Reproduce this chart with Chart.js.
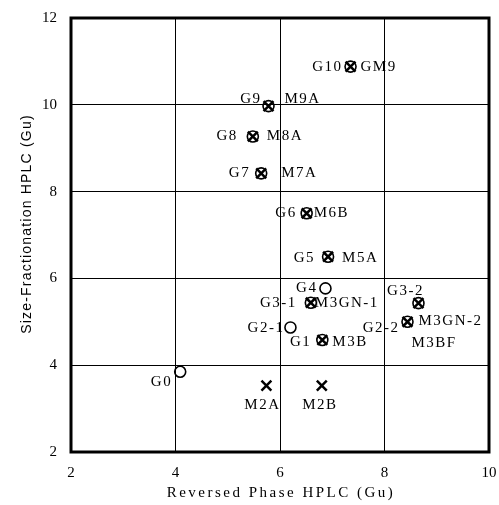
<!DOCTYPE html>
<html>
<head>
<meta charset="utf-8">
<style>
  html, body { margin: 0; padding: 0; background: #fff; }
  #wrap { width: 499px; height: 505px; }
</style>
<script src="https://cdn.jsdelivr.net/npm/chart.js@4/dist/chart.umd.min.js"></script>
</head>
<body>
<div id="wrap"><canvas id="c" width="499" height="505"></canvas></div>
<script>
// Glycan fractions: open circles (G series)
const circleNames = ['G10', 'G9', 'G8', 'G7', 'G6', 'G5', 'G4', 'G3-1', 'G3-2', 'G2-1', 'G2-2', 'G1', 'G0'];
const circleX = [7.35, 5.78, 5.48, 5.64, 6.51, 6.92, 6.87, 6.59, 8.65, 6.20, 8.44, 6.81, 4.09];
const circleY = [10.88, 9.97, 9.27, 8.42, 7.50, 6.50, 5.77, 5.44, 5.43, 4.87, 5.00, 4.58, 3.85];

// Standard oligosaccharides: crosses (M series)
const crossNames = ['GM9', 'M9A', 'M8A', 'M7A', 'M6B', 'M5A', 'M3GN-1', 'M3GN-2', 'M3BF', 'M3B', 'M2A', 'M2B'];
const crossX = [7.35, 5.78, 5.48, 5.64, 6.51, 6.92, 6.59, 8.65, 8.44, 6.81, 5.74, 6.80];
const crossY = [10.88, 9.97, 9.27, 8.42, 7.50, 6.50, 5.44, 5.43, 5.00, 4.58, 3.53, 3.53];

// Axis ticks
const xTicks = [2, 4, 6, 8, 10];
const yTicks = [2, 4, 6, 8, 10, 12];

const xTitle = 'Reversed Phase HPLC (Gu)';
const yTitle = 'Size-Fractionation HPLC (Gu)';

// Where each point's name sits relative to its marker: [dx, dy, align]
const labelPlacement = {
  'G10': [-8, 0, 'right'], 'GM9': [10, 0, 'left'],
  'G9': [-7, -7, 'right'], 'M9A': [16, -7, 'left'],
  'G8': [-15, 0, 'right'], 'M8A': [14, 0, 'left'],
  'G7': [-11, 0, 'right'], 'M7A': [20, 0, 'left'],
  'G6': [-10, 0, 'right'], 'M6B': [7, 0, 'left'],
  'G5': [-13, 1, 'right'], 'M5A': [14, 1, 'left'],
  'G4': [-8, 0, 'right'],
  'G3-1': [-14, 0, 'right'], 'M3GN-1': [4, 0, 'left'],
  'G3-2': [-13, -12, 'center'], 'M3GN-2': [0, 18, 'left'],
  'G2-1': [-6, 1, 'right'],
  'G2-2': [-8, 6, 'right'], 'M3BF': [4, 21, 'left'],
  'G1': [-11, 2, 'right'], 'M3B': [10, 2, 'left'],
  'M2A': [-4, 19, 'center'], 'M2B': [-2, 19, 'center'],
  'G0': [-8, 10, 'right']
};

const serif = '"Liberation Serif", "Times New Roman", serif';
const sans = '"Liberation Sans", Arial, sans-serif';

const pointLabels = {
  id: 'pointLabels',
  afterDatasetsDraw(chart) {
    const ctx = chart.ctx;
    ctx.save();
    ctx.fillStyle = '#000';
    ctx.font = '15px ' + serif;
    ctx.letterSpacing = '1.5px';
    ctx.textBaseline = 'middle';
    chart.data.datasets.forEach((ds, di) => {
      const meta = chart.getDatasetMeta(di);
      ds.names.forEach((name, i) => {
        const el = meta.data[i];
        const p = labelPlacement[name] || [8, 0, 'left'];
        ctx.textAlign = p[2];
        ctx.fillText(name, el.x + p[0], el.y + p[1]);
      });
    });
    ctx.restore();
  }
};

const frame = {
  id: 'frame',
  afterDraw(chart) {
    const { ctx, chartArea: a } = chart;
    ctx.save();
    ctx.strokeStyle = '#000';
    ctx.lineWidth = 3;
    ctx.strokeRect(a.left, a.top, a.right - a.left, a.bottom - a.top);

    ctx.fillStyle = '#000';
    ctx.textAlign = 'center';
    ctx.textBaseline = 'middle';
    ctx.font = '15px ' + serif;
    ctx.letterSpacing = '2.5px';
    ctx.fillText(xTitle, (a.left + a.right) / 2 + 1, 493);

    ctx.translate(27, (a.top + a.bottom) / 2 - 11);
    ctx.rotate(-Math.PI / 2);
    ctx.font = '14px ' + sans;
    ctx.letterSpacing = '1.2px';
    ctx.fillText(yTitle, 0, 0);
    ctx.restore();
  }
};

new Chart(document.getElementById('c'), {
  type: 'scatter',
  data: {
    datasets: [
      {
        names: circleNames,
        data: circleX.map((x, i) => ({ x, y: circleY[i] })),
        pointStyle: 'circle',
        pointRadius: 5.5,
        pointBorderWidth: 1.6,
        pointBorderColor: '#000',
        pointBackgroundColor: 'rgba(0,0,0,0)'
      },
      {
        names: crossNames,
        data: crossX.map((x, i) => ({ x, y: crossY[i] })),
        pointStyle: 'crossRot',
        pointRadius: 7,
        pointBorderWidth: 2.5,
        pointBorderColor: '#000',
        pointBackgroundColor: '#000'
      }
    ]
  },
  options: {
    responsive: false,
    animation: false,
    events: [],
    layout: { padding: { top: 18, right: 10, left: 0, bottom: 0 } },
    plugins: { legend: { display: false }, tooltip: { enabled: false } },
    scales: {
      x: {
        type: 'linear',
        min: 2, max: 10,
        afterFit(s) { s.height = 53; s.paddingLeft = 0; s.paddingRight = 0; },
        afterBuildTicks(s) { s.ticks = xTicks.map(v => ({ value: v })); },
        grid: { color: '#000', lineWidth: 1, drawTicks: false },
        border: { display: false },
        ticks: { color: '#000', font: { family: serif, size: 15 }, padding: 12, maxRotation: 0 }
      },
      y: {
        type: 'linear',
        min: 2, max: 12,
        afterFit(s) { s.width = 71; s.paddingTop = 0; s.paddingBottom = 0; },
        afterBuildTicks(s) { s.ticks = yTicks.map(v => ({ value: v })); },
        grid: { color: '#000', lineWidth: 1, drawTicks: false },
        border: { display: false },
        ticks: { color: '#000', font: { family: serif, size: 15 }, padding: 14 }
      }
    }
  },
  plugins: [pointLabels, frame]
});
</script>
</body>
</html>
